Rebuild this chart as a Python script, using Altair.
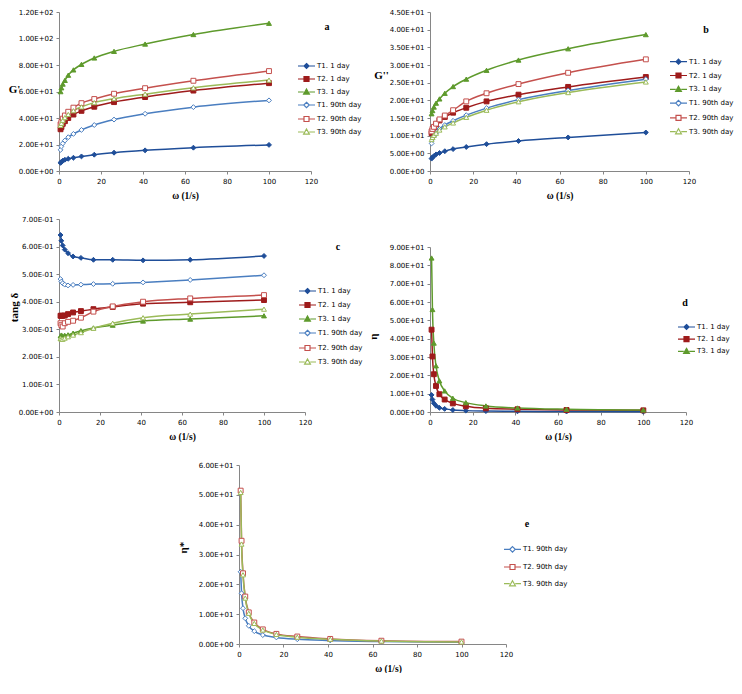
import altair as alt
import pandas as pd

# ---------------- data ----------------
omega = [0.74, 1.15, 1.8, 2.81, 4.4, 6.87, 10.7, 16.8, 26.2, 41, 64, 100]

series_names = ["T1. 1 day", "T2. 1 day", "T3. 1 day", "T1. 90th day", "T2. 90th day", "T3. 90th day"]
series_colors = ["#1F4E99", "#9E1B1B", "#5E9A2C", "#4A7EC0", "#C4504D", "#9BBB59"]
series_fills = ["#1F4E99", "#9E1B1B", "#5E9A2C", "#FFFFFF", "#FFFFFF", "#FFFFFF"]
series_shapes = ["diamond", "square", "triangle-up", "diamond", "square", "triangle-up"]
legend_shapes = [
    "M-1.7,0H-0.5M0.5,0H1.7M0,-0.5L0.5,0L0,0.5L-0.5,0Z",
    "M-1.7,0H-0.5M0.5,0H1.7M-0.5,-0.5H0.5V0.5H-0.5Z",
    "M-1.7,0H-0.55M0.55,0H1.7M0,-0.6L0.58,0.42H-0.58Z",
    "M-1.7,0H-0.55M0.55,0H1.7M0,-0.55L0.55,0L0,0.55L-0.55,0Z",
    "M-1.7,0H-0.5M0.5,0H1.7M-0.5,-0.5H0.5V0.5H-0.5Z",
    "M-1.7,0H-0.55M0.55,0H1.7M0,-0.6L0.58,0.42H-0.58Z",
]

x_ticks = [0, 20, 40, 60, 80, 100, 120]
a_ticks = [0, 20, 40, 60, 80, 100, 120]
b_ticks = [0, 5, 10, 15, 20, 25, 30, 35, 40, 45]
c_ticks = [0, 0.1, 0.2, 0.3, 0.4, 0.5, 0.6, 0.7]
d_ticks = [0, 10, 20, 30, 40, 50, 60, 70, 80, 90]
e_ticks = [0, 10, 20, 30, 40, 50, 60]

# (a) G'
a_T1_1 = [6.1, 7.0, 7.8, 8.5, 9.2, 10.0, 11.0, 12.3, 13.8, 15.6, 17.6, 19.7]
a_T2_1 = [31.5, 33.2, 35.6, 37.6, 40.0, 42.6, 45.4, 48.5, 52.0, 55.8, 60.7, 66.3]
a_T3_1 = [59.9, 62.8, 65.6, 68.4, 72.3, 76.3, 80.5, 85.3, 90.3, 95.8, 103.0, 111.5]
a_T1_90 = [16.0, 18.5, 20.8, 23.0, 25.5, 28.0, 31.0, 34.7, 38.8, 43.2, 48.2, 53.3]
a_T2_90 = [35.2, 37.0, 39.5, 41.9, 44.7, 47.8, 51.2, 54.3, 58.3, 62.5, 68.1, 75.4]
a_T3_90 = [34.5, 36.0, 38.3, 40.3, 42.7, 45.5, 48.4, 51.6, 54.6, 58.0, 62.8, 68.6]

# (b) G''
b_T1_1 = [3.5, 3.9, 4.2, 4.7, 5.1, 5.6, 6.2, 6.8, 7.6, 8.5, 9.5, 10.9]
b_T2_1 = [10.7, 11.4, 12.3, 13.2, 14.3, 15.3, 16.5, 17.9, 19.7, 21.6, 23.8, 26.6]
b_T3_1 = [16.2, 17.1, 18.1, 19.2, 20.4, 22.0, 23.9, 26.0, 28.5, 31.4, 34.6, 38.6]
b_T1_90 = [7.8, 9.0, 9.8, 10.7, 11.9, 13.0, 14.2, 15.8, 17.8, 20.2, 22.8, 26.0]
b_T2_90 = [11.2, 11.9, 12.5, 13.4, 14.6, 15.7, 17.2, 19.7, 22.0, 24.6, 27.8, 31.6]
b_T3_90 = [8.9, 9.5, 10.1, 10.7, 11.6, 12.5, 13.6, 15.2, 17.2, 19.6, 22.2, 25.2]

# (c) tang delta
c_T1_1 = [0.642, 0.621, 0.604, 0.589, 0.576, 0.564, 0.559, 0.552, 0.552, 0.550, 0.552, 0.566]
c_T2_1 = [0.349, 0.349, 0.349, 0.350, 0.355, 0.361, 0.366, 0.373, 0.381, 0.393, 0.398, 0.406]
c_T3_1 = [0.276, 0.279, 0.276, 0.278, 0.280, 0.286, 0.295, 0.305, 0.315, 0.330, 0.337, 0.349]
c_T1_90 = [0.482, 0.473, 0.467, 0.462, 0.459, 0.461, 0.462, 0.464, 0.465, 0.470, 0.479, 0.496]
c_T2_90 = [0.322, 0.315, 0.310, 0.322, 0.327, 0.331, 0.342, 0.364, 0.383, 0.400, 0.412, 0.424]
c_T3_90 = [0.267, 0.264, 0.264, 0.268, 0.273, 0.279, 0.288, 0.304, 0.322, 0.342, 0.355, 0.373]

# (d) eta, day 1
d_T1_1 = [9.3, 6.8, 4.8, 3.4, 2.3, 1.7, 1.1, 0.75, 0.5, 0.35, 0.25, 0.18]
d_T2_1 = [44.9, 30.3, 20.6, 14.2, 9.7, 6.8, 4.7, 3.1, 2.0, 1.5, 1.1, 0.9]
d_T3_1 = [84.0, 55.9, 37.6, 25.2, 17.0, 11.5, 7.5, 5.1, 3.3, 2.2, 1.5, 1.1]

# (e) eta*, day 90
e_T1_90 = [24.2, 17.0, 12.0, 8.6, 6.1, 4.3, 3.0, 2.2, 1.6, 1.2, 0.85, 0.62]
e_T2_90 = [51.4, 34.6, 23.7, 15.9, 10.6, 7.2, 4.9, 3.4, 2.5, 1.7, 1.1, 0.8]
e_T3_90 = [50.8, 33.5, 23.2, 15.4, 10.3, 6.9, 4.7, 3.2, 2.3, 1.6, 1.0, 0.7]

SCI = ("test(regexp('E[+-][0-9]$'), upper(format(datum.value, '.2e'))) ? "
       "slice(upper(format(datum.value, '.2e')), 0, -1) + '0' + slice(upper(format(datum.value, '.2e')), -1) : "
       "upper(format(datum.value, '.2e'))")


def long_df(names, lists):
    rows = []
    for s, vals in zip(names, lists):
        for w, v in zip(omega, vals):
            rows.append({"omega": w, "value": v, "series": s})
    return pd.DataFrame(rows)


def panel(names, lists, width, height, y_domain, y_ticks, ytitle, ytitle_angle,
          ytitle_x, ytitle_y, legend_x, legend_y, row_pad, letter, letter_dx,
          letter_dy, x_range=None, y_range=None, y_offset=0, xtitle_x=None):
    df = long_df(names, lists)
    idx = [series_names.index(n) for n in names]
    col_scale = alt.Scale(domain=names, range=[series_colors[i] for i in idx])
    fill_scale = alt.Scale(domain=names, range=[series_fills[i] for i in idx])
    shape_scale = alt.Scale(domain=names, range=[series_shapes[i] for i in idx])
    leg_shape_scale = alt.Scale(domain=names, range=[legend_shapes[i] for i in idx])

    xs = dict(domain=[0, 120], nice=False, zero=False)
    if x_range is not None:
        xs["range"] = x_range
    ys = dict(domain=y_domain, nice=False)
    if y_range is not None:
        ys["range"] = y_range

    xax = dict(values=x_ticks, title="ω (1/s)", titleFontSize=9.5, titleY=24,
               titleBaseline="middle")
    if xtitle_x is not None:
        xax["titleX"] = xtitle_x
    yax = dict(values=y_ticks, labelExpr=SCI, title=ytitle, titleAngle=ytitle_angle,
               titleX=ytitle_x, titleY=ytitle_y, titleAlign="center",
               titleBaseline="middle", titleFontSize=11)
    if y_offset:
        yax["offset"] = y_offset

    x = alt.X("omega:Q", scale=alt.Scale(**xs), axis=alt.Axis(**xax))
    y = alt.Y("value:Q", scale=alt.Scale(**ys), axis=alt.Axis(**yax))

    base = alt.Chart(df)
    lines = base.mark_line(interpolate="monotone", strokeWidth=1.5).encode(
        x=x, y=y, color=alt.Color("series:N", scale=col_scale, legend=None))
    points = base.mark_point(filled=True, size=24, strokeWidth=1, opacity=1).encode(
        x=x, y=y,
        shape=alt.Shape("series:N", scale=shape_scale, legend=None),
        fill=alt.Fill("series:N", scale=fill_scale, legend=None),
        stroke=alt.Stroke("series:N", scale=col_scale, legend=None))
    leg = alt.Legend(orient="none", legendX=legend_x, legendY=legend_y, title=None,
                     labelFont="DejaVu Sans", labelFontSize=7, labelColor="#000000",
                     labelOffset=4.5, rowPadding=row_pad, symbolSize=100, padding=0,
                     symbolStrokeWidth=1.2)
    legend_layer = base.transform_filter("false").mark_point(
        filled=True, size=100, strokeWidth=1.2, opacity=1).encode(
        x=x, y=y,
        shape=alt.Shape("series:N", scale=leg_shape_scale, legend=leg),
        fill=alt.Fill("series:N", scale=fill_scale, legend=leg),
        stroke=alt.Stroke("series:N", scale=col_scale, legend=leg))

    return alt.layer(lines, points, legend_layer).resolve_scale(
        shape="independent", fill="independent", stroke="independent"
    ).properties(
        width=width, height=height,
        title=alt.TitleParams(letter, anchor="start", frame="group", align="center",
                              baseline="middle", dx=letter_dx, dy=letter_dy, offset=0,
                              font="Liberation Serif", fontSize=10, fontWeight="bold",
                              color="#000000"))


all6 = series_names
pa = panel(all6, [a_T1_1, a_T2_1, a_T3_1, a_T1_90, a_T2_90, a_T3_90], 252, 159,
           [0, 120], a_ticks, "G'", 0, -45, 77, 241.5, 48, 2.0, "a", 268, 29)
pb = panel(all6, [b_T1_1, b_T2_1, b_T3_1, b_T1_90, b_T2_90, b_T3_90], 259, 159,
           [0, 45], b_ticks, "G''", 0, -49, 63, 242.5, 43.7, 2.8, "b", 276, 32)
pc = panel(all6, [c_T1_1, c_T2_1, c_T3_1, c_T1_90, c_T2_90, c_T3_90], 252, 193,
           [0, 0.7], c_ticks, "tang δ", 270, -45, 88, 242.5, 66, 3.0, "c", 279, 42,
           x_range=[0, 246])
pd_ = panel(series_names[:3], [d_T1_1, d_T2_1, d_T3_1], 256, 193,
            [0, 90], d_ticks, "η", 270, -57, 117, 250.5, 102, 1.2, "d", 255, 94,
            y_range=[193, 28])
pe = panel(series_names[3:], [e_T1_90, e_T2_90, e_T3_90], 76, 184,
           [0, 60], e_ticks, "η*", 270, -56, 87, 76.5, 83.3, 5.7, "e", 97, 74,
           x_range=[-191, 76], y_range=[184, 5], y_offset=191, xtitle_x=-42)

spacer = alt.Chart(pd.DataFrame({"s": [0]})).mark_point(opacity=0).encode(
    x=alt.value(0), y=alt.value(0)).properties(width=10, height=10)

chart = alt.concat(pa, pb, pc, pd_, spacer, pe, columns=2,
                   spacing={"row": 48, "column": 119},
                   align="each", bounds="flush").resolve_scale(
    color="independent", shape="independent", fill="independent", stroke="independent"
).properties(
    padding={"left": 0, "top": 0, "right": 0, "bottom": 0},
    background="#FFFFFF",
).configure_view(stroke=None).configure_axis(
    domainColor="#868686", tickColor="#868686", labelFont="DejaVu Sans", labelFontSize=7,
    labelColor="#000000", grid=False, titleFont="Liberation Serif", titleFontWeight="bold",
    titleColor="#000000", tickSize=3, labelPadding=3, labelFlush=False, labelOverlap=False,
    domainWidth=1,
)

chart.save("out.html", embed_options={"renderer": "svg", "actions": False})
